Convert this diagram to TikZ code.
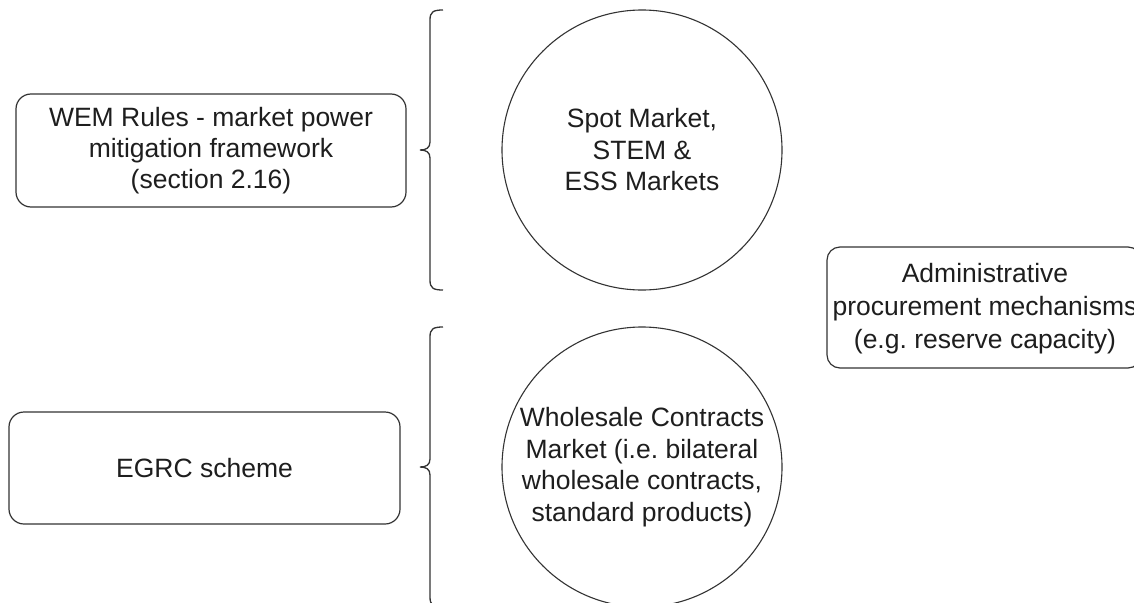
\documentclass[tikz,border=0pt]{standalone}
\usepackage{fontspec}
\setmainfont{Liberation Sans}
\frenchspacing
\definecolor{edge}{HTML}{333333}
\definecolor{txt}{HTML}{1E1E1E}
\tikzset{
  rbox/.style={draw=edge, line width=1.2pt, rounded corners=15pt, inner sep=0pt, align=center, text=txt,
    font=\fontsize{26.5}{31}\selectfont},
  circ/.style={draw=edge, line width=1.1pt, circle, minimum size=280pt, inner sep=0pt, align=center, text=txt,
    font=\fontsize{26.5}{31.5}\selectfont},
  bracel/.style={draw=edge, line width=1.3pt}
}
\begin{document}
\begin{tikzpicture}[x=1pt,y=-1pt]
\useasboundingbox (0,0) rectangle (1134,602);
\clip (0,0) rectangle (1134,602);
\fill[white] (0,0) rectangle (1134,602);
\node[rbox, minimum width=390pt, minimum height=113pt] (wem) at (211,150.5)
  {WEM Rules - market power\\mitigation framework\\(section 2.16)};
\node[rbox, minimum width=391pt, minimum height=112pt] (egrc) at (204.5,468) {EGRC scheme};
\node[circ] (spot) at (642,150) {Spot Market,\\STEM \&\\ESS Markets};
\node[circ] (whole) at (642,467) {Wholesale Contracts\\Market (i.e. bilateral\\wholesale contracts,\\standard products)};
\node[rbox, rounded corners=13pt, minimum width=314pt, minimum height=121pt] (admin) at (984,307.5) {};
\node[text=txt, font=\fontsize{26.5}{33}\selectfont, align=center, inner sep=0pt] (admintxt) at (985,309)
  {Administrative\\procurement mechanisms\\(e.g. reserve capacity)};
% braces
\draw[bracel] (443,10) .. controls (433,10) and (430,12) .. (430,20) -- (430,142)
  .. controls (430,148) and (426,150) .. (420,150)
  .. controls (426,150) and (430,152) .. (430,158) -- (430,280)
  .. controls (430,288) and (433,290) .. (443,290);
\draw[bracel] (443,327) .. controls (433,327) and (430,329) .. (430,337) -- (430,459)
  .. controls (430,465) and (426,467) .. (420,467)
  .. controls (426,467) and (430,469) .. (430,475) -- (430,597)
  .. controls (430,605) and (433,607) .. (443,607);
\end{tikzpicture}
\end{document}
